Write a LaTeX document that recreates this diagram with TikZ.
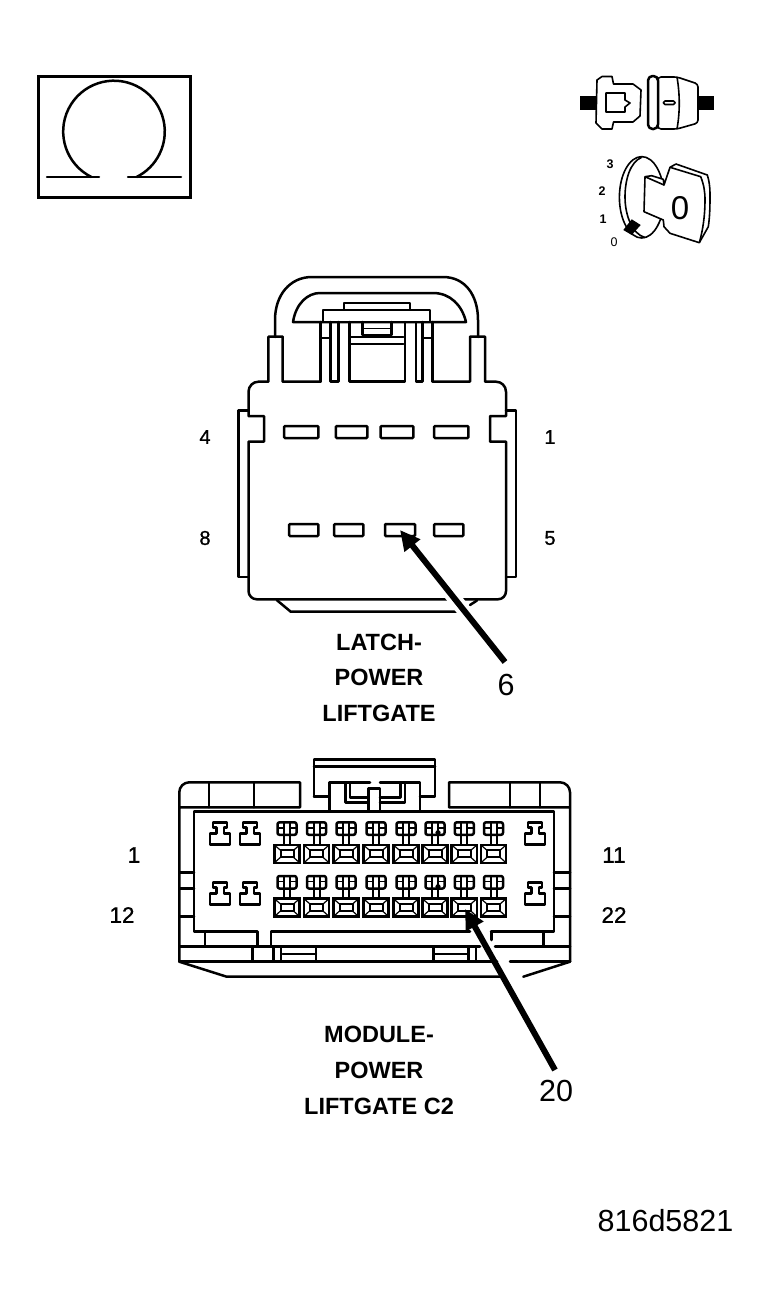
\documentclass[tikz,border=0pt]{standalone}
\usepackage{fontspec}
\setmainfont{Liberation Sans}
\newfontfamily\heavyfont[FakeBold=1]{Liberation Sans}
\usetikzlibrary{arrows.meta}
\tikzset{
  ln/.style={line width=2.5pt,line join=round,line cap=round,draw=black},
  thk/.style={line width=3pt,line join=miter,draw=black},
  thn/.style={line width=1.6pt,line join=round,draw=black},
  pinbox/.style={draw=black,line width=2.5pt,rounded corners=1pt,inner sep=0pt,fill=white},
  pinlabel/.style={font=\heavyfont\fontsize{20}{20}\selectfont,inner sep=0pt},
  modlabel/.style={font=\heavyfont\fontsize{22.5}{22.5}\selectfont,inner sep=0pt},
  caption/.style={font=\fontsize{23.5}{23.5}\selectfont\bfseries,inner sep=0pt},
  callout/.style={font=\fontsize{30.5}{30.5}\selectfont,inner sep=0pt},
  pointer/.style={line width=6pt,draw=black,-{Triangle[length=20pt,width=19pt]}},
  halo/.style={line width=14pt,draw=white},
  keynum/.style={font=\fontsize{12.5}{12.5}\selectfont\bfseries,inner sep=0pt}
}
\newcommand{\smallpin}[2]{%
  \begin{scope}[shift={(#1,#2)}]
    \draw[ln] (-7,0) -- (7,0) -- (7,5) -- (4,5) -- (4,11) -- (10,11) -- (10,22) -- (-10,22) -- (-10,11) -- (-3.5,11) -- (-3.5,5) -- (-7,5) -- cycle;
  \end{scope}}
\newcommand{\largepin}[2]{%
  \begin{scope}[shift={(#1,#2)}]
    \draw[ln,rounded corners=2pt] (-9.5,0) rectangle (9.5,12.5);
    \draw[line width=2pt] (-3,0) -- (-3,22.5) (3,0) -- (3,22.5);
    \draw[thn] (-9.5,5.5) -- (-3,5.5) (3,5.5) -- (9.5,5.5);
    \draw[line width=2.5pt] (-12.6,22.7) rectangle (12.6,40.5);
    \draw[line width=2pt] (-6.5,28) rectangle (6.5,35);
    \draw[line width=1.2pt] (-12.6,22.7) -- (-6.5,28) (12.6,22.7) -- (6.5,28) (-12.6,40.5) -- (-6.5,35) (12.6,40.5) -- (6.5,35);
  \end{scope}}
\begin{document}
\begin{tikzpicture}[x=1pt,y=-1pt]
\useasboundingbox (0,0) rectangle (766,1306);
\fill[white] (0,0) rectangle (766,1306);

% Omega symbol
\draw[thk] (38.5,76) rectangle (190,197);
\draw[ln] (47,177) -- (99,177) (128,177) -- (181,177);
\draw[ln] (91.4,177) arc[start angle=116.4,end angle=423.6,radius=50.8];

% top-right: connector icon
\fill[black] (580,96) rectangle (597,110);
\fill[black] (698,96) rectangle (714,110);
\draw[thn,fill=white] (602,76.5) -- (597,80) -- (596,123) -- (602,129) -- (612,129) -- (613.5,122) -- (633,122) -- (640,116) -- (641,90) -- (633,84) -- (613.5,84) -- (612,76.5) -- cycle;
\draw[thn] (606,93) -- (625,93) -- (625,100) -- (630,103) -- (625,107) -- (625,112) -- (606,112) -- cycle;
\draw[thn,fill=white,rounded corners=3pt] (658,77) -- (677,77) -- (698,84) -- (698,123) -- (677,129) -- (658,129) -- cycle;
\draw[thn] (677,77) .. controls (680,95) and (680,112) .. (677,129);
\draw[ln,fill=white,rounded corners=4.5pt] (648,76) rectangle (658,129);
\draw[thn,rounded corners=1.5pt] (663.5,101) rectangle (675,104.5);

% top-right: key icon
\draw[thn,fill=white] (641.7,197.3) ellipse [x radius=22.3,y radius=40.7];
\draw[thn] (641.7,157.3) .. controls (630,162) and (625,180) .. (625,197) .. controls (625,215) and (632,234) .. (645,237.5);
\draw[thn,fill=white] (645,176.7) -- (651.7,175.7) -- (663.3,179.3) -- (664,185) -- (670,167.3) -- (676,164) -- (707.3,175) .. controls (709,180) and (710,187) .. (710,193.3) .. controls (710,205) and (710,215) .. (708.3,226.7) -- (699.3,242.7) -- (670,233.3) -- (664,226.7) -- (663.3,220) -- (644,211.7) -- cycle;
\draw[thn] (645,176.7) -- (664,185);
\draw[thn] (670,167.3) -- (700.7,176.7) .. controls (704,185) and (705,192) .. (705,200) .. controls (705,215) and (703,230) .. (699.3,242.7);
\fill[black] (631.7,219.3) -- (640.7,225) -- (631.7,235) -- (623.3,230) -- cycle;
\node[inner sep=0pt,font=\fontsize{33}{33}\selectfont] (keyzero) at (680,208.5) {0};
\node[keynum] (keythree) at (610,164) {3};
\node[keynum] (keytwo) at (602,191) {2};
\node[keynum] (keyone) at (603,219) {1};
\node[inner sep=0pt,font=\fontsize{12.5}{12.5}\selectfont] (keynil) at (614,242) {0};

% latch connector: handle
\draw[ln] (275,337) -- (275,320) .. controls (275,295) and (290,277) .. (312,277) -- (443,277) .. controls (465,277) and (478,295) .. (478,320) -- (478,337);
\draw[ln] (293,322) .. controls (296,303) and (308,293) .. (320,293) -- (433,293) .. controls (450,293) and (462,305) .. (466,322) -- cycle;
\draw[ln] (344,310) -- (344,303) -- (410,303) -- (410,310);
\draw[ln,fill=white] (323,310) rectangle (430,322);
% latch connector: legs and latch
\draw[ln] (320.7,322) -- (320.7,381.7) (330.7,322) -- (330.7,381.7) -- (338.3,381.7) -- (338.3,322);
\draw[ln] (349.3,322) -- (349.3,381.7) -- (405,381.7) -- (405,322);
\draw[ln] (416,322) -- (416,381.7) -- (422.7,381.7) -- (422.7,322);
\draw[ln] (432.7,322) -- (432.7,381.7);
\draw[thn] (320.7,337.7) -- (330.7,337.7) (422.7,337.7) -- (432.7,337.7);
\draw[ln] (350.7,337) -- (403.3,337) (350.7,344) -- (403.3,344);
\draw[ln] (362.7,322) -- (362.7,335) -- (391.7,335) -- (391.7,322);
\draw[thn] (362.7,328.3) -- (391.7,328.3);
% latch connector: body
\draw[ln] (320.7,381.7) -- (282.7,381.7) -- (282.7,336.7) -- (268.3,336.7) -- (268.3,381.7) -- (258.5,381.7) arc[start angle=270,end angle=180,radius=10] -- (248.5,416) -- (264,416) -- (264,441.7) -- (248.5,441.7) -- (248.5,591) arc[start angle=180,end angle=90,radius=8.3] -- (498,599.3) arc[start angle=90,end angle=0,radius=8] -- (506,441.7) -- (490,441.7) -- (490,416) -- (506,416) -- (506,391.7) arc[start angle=0,end angle=-90,radius=10] -- (485,381.7) -- (485,336.7) -- (470,336.7) -- (470,381.7) -- (432.7,381.7);
\draw[ln] (248.5,410.7) -- (238.5,410.7) -- (238.5,577) -- (248.5,577);
\draw[ln] (506,410.7) -- (516,410.7) -- (516,577) -- (506,577);
\draw[ln] (276.7,600) -- (290.7,611.7) -- (470,611.7) (470,605) -- (477,600.5);
% latch connector: terminals
\node[pinbox,minimum width=34.3pt,minimum height=12pt] (lt4) at (301.2,432) {};
\node[pinbox,minimum width=31.3pt,minimum height=12pt] (lt3) at (351.6,432) {};
\node[pinbox,minimum width=32.6pt,minimum height=12pt] (lt2) at (397,432) {};
\node[pinbox,minimum width=34.3pt,minimum height=12pt] (lt1) at (451.2,432) {};
\node[pinbox,minimum width=29.3pt,minimum height=12pt] (lb8) at (303.7,530) {};
\node[pinbox,minimum width=29.3pt,minimum height=12pt] (lb7) at (348.7,530) {};
\node[pinbox,minimum width=30pt,minimum height=12pt] (lb6) at (400,530) {};
\node[pinbox,minimum width=29.3pt,minimum height=12pt] (lb5) at (448.7,530) {};
\node[pinlabel] (nfour) at (205,437) {4};
\node[pinlabel] (none) at (550,437) {1};
\node[pinlabel] (neight) at (205,538) {8};
\node[pinlabel] (nfive) at (550,538) {5};
\node[caption] (capa) at (379,642) {LATCH-};
\node[caption] (capb) at (379,677) {POWER};
\node[caption] (capc) at (379,713) {LIFTGATE};
\node[callout] (six) at (506,685) {6};
\coordinate (sixtail) at (505,662);
\draw[halo] (477,627) -- (442,583);
\draw[pointer] (sixtail) -- (lb6.center);

% module connector: clip
\draw[ln] (314,796.7) -- (314,759.3) -- (435,759.3) -- (435,796.7) -- (420,796.7);
\draw[ln] (314,766.7) -- (435,766.7);
\draw[ln] (314,796.7) -- (329.3,796.7);
\draw[ln] (329.3,811.7) -- (329.3,782.3) -- (370,782.3) (380,782.3) -- (420,782.3) -- (420,811.7);
\draw[ln] (345.7,782.3) -- (345.7,802.3) -- (368.3,802.3) (350,782.3) -- (350,797.7) -- (368.3,797.7);
\draw[ln] (405,782.3) -- (405,802.3) -- (380,802.3) (400.7,782.3) -- (400.7,797.7) -- (380,797.7);
\draw[ln] (368.3,811.7) -- (368.3,788.3) -- (380,788.3) -- (380,811.7);
% module connector: housing
\draw[ln] (179.3,961.7) -- (179.3,792.3) arc[start angle=180,end angle=270,radius=10] -- (300,782.3) -- (300,807.3) -- (179.3,807.3);
\draw[ln] (209,782.3) -- (209,807.3) (254,782.3) -- (254,807.3);
\draw[ln] (570,807.3) -- (449,807.3) -- (449,782.3) -- (560,782.3) arc[start angle=270,end angle=360,radius=10] -- (570,961.7);
\draw[ln] (510,782.3) -- (510,807.3) (540,782.3) -- (540,807.3);
\draw[ln] (491,931.7) -- (554,931.7) -- (554,811.7) -- (194,811.7) -- (194,931.7) -- (257.3,931.7) -- (257.3,946.7) (271,946.7) -- (271,931.7) -- (470,931.7);
\draw[ln] (491.7,931.7) -- (491.7,940);
\draw[ln] (205,931.7) -- (205,946.7) (543.3,931.7) -- (543.3,946.7);
\foreach \yy in {872.7,888.3,916.7} {
  \draw[ln] (179.3,\yy) -- (194,\yy);
  \draw[ln] (554,\yy) -- (570,\yy);
}
\draw[ln] (179.3,946.7) -- (480,946.7) (495,946.7) -- (570,946.7);
\draw[ln] (179.3,961.7) -- (497,961.7) (510,961.7) -- (570,961.7);
\draw[ln] (179.3,961.7) -- (226.7,976.7) -- (502,976.7) (523.3,976.7) -- (570,961.7);
\draw[ln] (252.7,946.7) -- (252.7,961.7) (273.3,946.7) -- (273.3,961.7) (281,946.7) -- (281,961.7) (316,946.7) -- (316,961.7) (282.7,954) -- (316,954);
\draw[ln] (433.3,946.7) -- (433.3,961.7) (468.3,946.7) -- (468.3,961.7) (476,946.7) -- (476,961.7) (433.3,954) -- (468.3,954);
% module connector: terminals
\smallpin{220}{822.3}
\smallpin{250}{822.3}
\smallpin{535}{822.3}
\smallpin{220}{882.3}
\smallpin{250}{882.3}
\smallpin{535}{882.3}
\foreach \cc in {287,316.5,346,376,406,435,464.3,493.5} {
  \largepin{\cc}{822.3}
  \largepin{\cc}{876}
}
\fill[black] (438,832.7) circle (2.6pt) (438,886.7) circle (2.6pt);
\coordinate (pintwenty) at (465,909);
\node[modlabel] (mone) at (134,855) {1};
\node[modlabel] (meleven) at (614,855) {11};
\node[modlabel] (mtwelve) at (122,915) {12};
\node[modlabel] (mtwentytwo) at (614,915) {22};
\node[caption] (capd) at (379,1034) {MODULE-};
\node[caption] (cape) at (379,1070) {POWER};
\node[caption] (capf) at (379,1106) {LIFTGATE C2};
\node[callout] (twenty) at (556,1091) {20};
\coordinate (twentytail) at (555,1070);
\draw[pointer] (twentytail) -- (pintwenty);

\node[callout] (partno) at (665.5,1221) {816d5821};
\end{tikzpicture}
\end{document}
